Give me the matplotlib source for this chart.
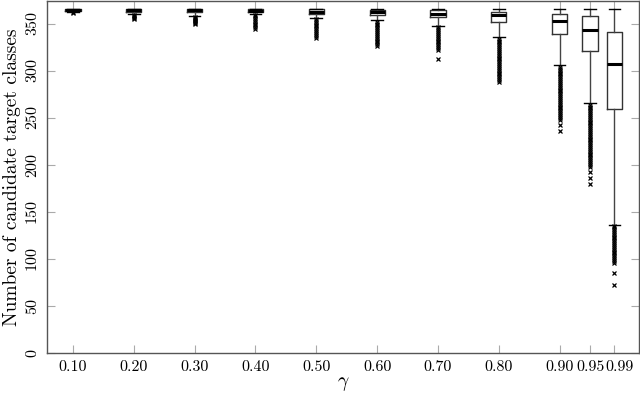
import matplotlib
matplotlib.use("Agg")
import matplotlib.pyplot as plt
import matplotlib.transforms as mtransforms

plt.rcParams['font.family'] = 'serif'
plt.rcParams['font.serif'] = ['cmr10']
plt.rcParams['mathtext.fontset'] = 'cm'
plt.rcParams['axes.unicode_minus'] = False
plt.rcParams['axes.formatter.use_mathtext'] = True

gammas = [0.10, 0.20, 0.30, 0.40, 0.50, 0.60, 0.70, 0.80, 0.90, 0.95, 0.99]
tick_labels = ['0.10', '0.20', '0.30', '0.40', '0.50', '0.60', '0.70', '0.80', '0.90', '0.95', '0.99']

q1 = [363, 362.6, 362.5, 362, 360, 359.2, 356.7, 351.4, 339, 320.5, 259.3]
med = [364, 364, 364, 363.5, 362.5, 362, 359.9, 359.2, 352.8, 343.6, 307]
q3 = [365, 365, 365, 365, 365, 364.9, 364.1, 362.8, 360.6, 357.7, 340.7]
whislo = [362, 360, 358, 360.6, 356, 353.5, 347, 335.8, 306, 265.7, 136.4]
whishi = [365, 365, 365, 365, 365, 365, 365, 365, 365, 365, 365]

fliers = [
    [361, 362],
    [355, 356, 357, 358, 359],
    [350, 351, 352, 353, 354, 355, 356, 357],
    [344, 346, 348, 350, 352, 354, 356, 358, 359],
    [335, 337, 339, 341, 343, 345, 347, 349, 351, 353, 355],
    [326, 328, 330, 332, 334, 336, 338, 340, 342, 344, 346, 348, 350, 352],
    [312, 322, 324, 326, 328, 330, 332, 334, 336, 338, 340, 342, 344, 346],
    [288, 290, 292, 294, 296, 298, 300, 302, 304, 306, 308, 310, 312, 314, 316,
     318, 320, 322, 324, 326, 328, 330, 332, 334],
    [236, 242, 248, 250, 252, 254, 256, 258, 260, 262, 264, 266, 268, 270, 272,
     274, 276, 278, 280, 282, 284, 286, 288, 290, 292, 294, 296, 298, 300, 302, 304],
    [179.5, 186, 192, 198, 200, 202, 204, 206, 208, 210, 212, 214, 216, 218, 220,
     222, 224, 226, 228, 230, 232, 234, 236, 238, 240, 242, 244, 246, 248, 250,
     252, 254, 256, 258, 260, 262, 264],
    [72.3, 85, 96, 98, 100, 102, 104, 106, 108, 110, 112, 114, 116, 118, 120,
     122, 124, 126, 128, 130, 132, 134, 135],
]

stats = []
for i in range(len(gammas)):
    stats.append({'med': med[i], 'q1': q1[i], 'q3': q3[i],
                  'whislo': whislo[i], 'whishi': whishi[i],
                  'fliers': fliers[i]})

fig = plt.figure(figsize=(6.4, 3.97), dpi=100)
ax = fig.add_axes([0.074, 0.110, 0.924, 0.8875])

ax.bxp(stats, positions=gammas, widths=0.025, capwidths=0.019,
       manage_ticks=False,
       boxprops=dict(color='#333333', linewidth=1.0),
       medianprops=dict(color='black', linewidth=2.2),
       whiskerprops=dict(color='#444444', linewidth=1.0),
       capprops=dict(color='black', linewidth=1.0),
       flierprops=dict(marker='x', markersize=2.8, markeredgecolor='black',
                       markeredgewidth=0.9, linestyle='none'))

ax.set_xlim(0.058, 1.03)
ax.set_ylim(0, 374)
ax.set_xticks(gammas)
ax.set_xticklabels(tick_labels)
ax.set_yticks([0, 50, 100, 150, 200, 250, 300, 350])
ax.tick_params(direction='in', length=5.5, width=0.8, color='#aaaaaa',
               top=True, right=True, labelsize=11.5, pad=5)
for lab in ax.get_yticklabels():
    lab.set_rotation(90)
    lab.set_va('center')
# the last label sits a little to the right, as in the original
last = ax.get_xticklabels()[-1]
last.set_transform(last.get_transform() +
                   mtransforms.ScaledTranslation(5 / 100, 0, fig.dpi_scale_trans))
for s in ax.spines.values():
    s.set_color('#555555')
    s.set_linewidth(1.0)

ax.set_xlabel(r'$\gamma$', fontsize=14, labelpad=1)
ax.set_ylabel('Number of candidate target classes', fontsize=14, labelpad=3)

fig.savefig('out.png', dpi=100)
